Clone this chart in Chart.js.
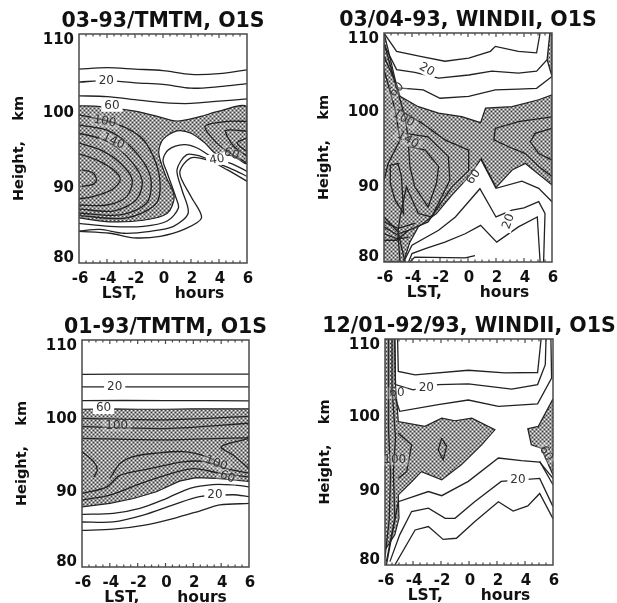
<!DOCTYPE html>
<html>
<head>
<meta charset="utf-8">
<title>O1S height / local time contours</title>
<script src="https://cdn.jsdelivr.net/npm/chart.js@4"></script>
<style>
  html, body { margin: 0; padding: 0; background: #fff; overflow: hidden; }
  #page { position: relative; width: 617px; height: 603px; overflow: hidden; }
  #page canvas { position: absolute; filter: blur(0.4px); }
</style>
</head>
<body>
<div id="page"></div>
<script>
// --- Axis values ---
const xTickValues = [-6, -4, -2, 0, 2, 4, 6];
const xMinorTicks = [-5.5, -5, -4.5, -4, -3.5, -3, -2.5, -2, -1.5, -1, -0.5, 0, 0.5, 1, 1.5, 2, 2.5, 3, 3.5, 4, 4.5, 5, 5.5];
const yTickValues = [80, 90, 100, 110];

// --- Panel 1: 03-93/TMTM ---
const p1Shade = [[-6,100.6],[-4.5,100.5],[-2,99.9],[-0.4,99.2],[1,98.6],[2.7,99.2],[4,99.9],[6,100.4],[6,93.1],[5,94],[3.8,94.3],[3,95.7],[2,97],[1,97.3],[0,96.2],[-0.3,94.4],[0.2,91.4],[0.8,88.7],[0.3,86.5],[-1.4,85.6],[-3.8,85.4],[-6,85.9]];
const p1Upper1 = [[-6,105.4],[-4,105.6],[-2,105.4],[0,105.2],[2,104.7],[4,104.8],[6,105.3]];
const p1Upper2 = [[-6,103.7],[-4,103.9],[-2,103.6],[0,103.4],[2,102.9],[4,103.1],[6,103.5]];
const p1Upper3 = [[-6,101.9],[-4,101.8],[-2,101.4],[0,101],[1,100.9],[2,100.9],[4,101.2],[6,101.5]];
const p1Lower1 = [[-6,85.2],[-3.8,84.8],[-1.4,84.8],[0.3,85.5],[1.1,87.2],[0.9,88.7],[0.3,91.8],[0,93.5],[0.4,94.85],[1.5,95.5],[2.4,95.1],[3.6,93.8],[5.05,92.9],[6,92]];
const p1Lower2 = [[-6,84.2],[-4.5,84.4],[-2.8,83.9],[-0.9,84.15],[0.75,84.8],[1.8,86.55],[1.35,89.6],[1,92.2],[1.7,94.2],[2.65,94],[3.85,93.1],[5.05,92.2],[6,91.35]];
const p1Lower3 = [[-6,84.15],[-3.8,83.9],[-2.1,83.3],[-0.2,83.5],[1.5,84.4],[2.75,85.9],[2,88.7],[1.2,91.8],[1.95,93.75],[3.15,93.5],[4.6,92.2],[6,90.7]];
const p1Core1 = [[-5.8,92.2],[-5,91.8],[-4.75,90.9],[-5,90.3],[-5.8,90.05]];
const p1Core2 = [[-6,94.3],[-4.75,93.5],[-3.55,92.2],[-3.05,90.9],[-3.65,89.6],[-5,88.7],[-6,88.4]];
const p1Core3 = [[-6,95.7],[-4.5,94.85],[-3.05,93.1],[-2.2,90.9],[-2.6,88.7],[-4,87.6],[-6,87.6]];
const p1Core4 = [[-6,97],[-4.25,96.15],[-2.6,94],[-1.5,90.9],[-1.9,88.3],[-3.55,86.8],[-6,87.1]];
const p1Core5 = [[-6,98.1],[-3.8,97.25],[-2.1,94.85],[-0.9,91.35],[-1.15,87.9],[-3.05,86.3],[-6,86.55]];
const p1Core6 = [[-6,99.4],[-3.4,98.3],[-1.4,96.15],[-0.3,91.8],[-0.45,87.9],[-2.6,85.9],[-6,86.2]];
const p1Right1 = [[6,98.55],[4.6,98.55],[3,97.9],[3.85,95.7],[4.8,94.4],[6,93.1]];
const p1Right2 = [[6,97.25],[4.8,97.45],[4.45,97.25],[5.05,95.3],[6,94]];
const p1Right3 = [[6,96.4],[5.3,95.7],[6,94.6]];
const p1Labels = [[-4.05,103.8,'20'],[-3.65,100.6,'60'],[-4.15,98.55,'100'],[-3.55,95.95,'140'],[3.85,93.55,'40'],[4.9,94.3,'60']];

// --- Panel 2: 03/04-93 WINDII ---
const p2Shade = [[-6,110],[-5.7,107.8],[-5.2,103.9],[-4.85,101.7],[-3.55,100.35],[-2.1,99.5],[-0.45,99.05],[0.9,98.25],[1.25,100.15],[3.15,100.35],[5.05,101.25],[6,101.9],[6,90.1],[4.1,92.9],[3.15,92.05],[2,89.75],[0.95,93.55],[0.05,91.15],[-1.15,88.75],[-2.25,86.35],[-3.55,84.6],[-4.15,82.6],[-4.6,80],[-6,80]];
const p2ShadeEdge = [[5.85,110],[6,110],[6,104.3],[5.65,106.5]];
const p2Top1 = [[-6,110],[-5.1,107.6],[-3.4,106.95],[-1.65,106.3],[0.05,106.7],[1.6,107.6],[1.95,108.25],[3.6,107.6],[4.9,107.4],[5.15,110]];
const p2Top2 = [[-6,108.5],[-5.1,105.2],[-3.8,104.85],[-2.1,104.1],[0.05,104.5],[1.7,105],[3.6,104.75],[4.9,105],[5.65,106.5],[5.85,110]];
const p2Top3 = [[-6,106.95],[-5,102.8],[-3.2,102.55],[-2,101.45],[0.05,101.7],[1.95,102.55],[3.6,102.65],[4.9,102.75],[6,104.3]];
const p2Low1 = [[0.95,93.35],[2,89.65],[3.85,90.6],[5.05,89.65],[6,87.9]];
const p2Low2 = [[-4.6,80],[-4,82.2],[-2.1,84.15],[-0.9,85.9],[0.85,89.6],[2,85.9],[3.15,86.8],[4,87.1],[5.05,87.9],[5.5,86.35],[5.4,80]];
const p2Low3 = [[-4.25,80],[-4,81.1],[-3.05,81.75],[-1.65,82.6],[-0.2,83.7],[0.9,84.8],[2.05,82.6],[3.6,84.6],[4.95,85.9],[5.15,80]];
const p2Low4 = [[-4.15,80],[-3.8,80.65],[-0.2,80.55],[0.5,80.85]];
const p2Right1 = [[6,99],[3.6,98.4],[1.95,97.5],[1.85,96],[2.9,95.1],[4.1,94.2],[5.05,92.5],[6,91.2]];
const p2Right2 = [[6,97.5],[4.8,96.85],[4.45,95.75],[5.05,94.2],[6,93.35]];
const p2Loop = [[-5.55,92.7],[-5,92.9],[-4.75,91.15],[-4.6,86.35],[-5.2,88.1],[-5.55,90.3],[-5.55,92.7]];
const p2Nest1 = [[-4.25,95.1],[-3.05,94.65],[-2.1,92.5],[-2.25,90.3],[-2.85,87.2],[-3.8,89.85],[-4.15,92.5],[-4.25,95.1]];
const p2Nest2 = [[-4.5,96.85],[-2.85,96.4],[-1.4,93.8],[-1.3,90.7],[-2.6,85.9],[-3.55,86.35],[-4.4,89.85],[-4.85,85.9],[-5,83.95]];
const p2Nest3 = [[-4.85,99.9],[-3.3,98.2],[-1.65,96],[0.05,94.65],[0.05,92],[-1.15,89.85],[-2.85,85.25],[-4.25,84.15],[-5,83.7]];
const p2Diag1 = [[-6,108.7],[-5.2,103.45],[-4.5,99],[-4.25,96]];
const p2Diag2 = [[-6,105.2],[-5.2,99.9],[-4.85,96],[-5.7,92.9],[-6,90.7]];
const p2Star1 = [[-6,85.9],[-5,83.95],[-4.5,80]];
const p2Star2 = [[-6,84.6],[-5,83.5],[-4.85,80]];
const p2Star3 = [[-6,82.85],[-5.1,82.85],[-4.25,84.15]];
const p2Star4 = [[-6,85.25],[-5,84.4],[-3.8,85.05]];
const p2Star5 = [[-6,83.7],[-5,83],[-4.25,83.25]];
const p2Labels = [[-2.95,105.2,'20'],[2.9,85.3,'20'],[-5.1,102.55,'60'],[-4.6,98.8,'100'],[-4.3,96,'140'],[0.4,91.15,'60']];

// --- Panel 3: 01-93/TMTM ---
const p3Shade = [[-6,100.85],[-4,100.9],[-2,100.85],[0,100.85],[2,100.9],[4,100.9],[6,100.9],[6,91.3],[3.65,91.7],[2.2,91.8],[1,91.35],[-0.65,89.95],[-2.3,89.05],[-4,88.4],[-6,87.95]];
const p3Top1 = [[-6,105.46],[0,105.5],[6,105.5]];
const p3Top2 = [[-6,103.8],[0,103.8],[6,103.8]];
const p3Top3 = [[-6,102],[0,102],[6,101.95]];
const p3Band1 = [[-6,99.65],[0,99.45],[6,99.9]];
const p3Band2 = [[-6,98.55],[0,98.3],[6,99]];
const p3Band3 = [[-6,97],[0,96.8],[6,97.1]];
const p3Low1 = [[-6,86.95],[-3.75,87.1],[-1.85,87.75],[0.05,89.05],[1.75,90.4],[3.4,90.9],[4.85,90.85],[6,90.6]];
const p3Low2 = [[-6,85.95],[-3.75,85.95],[-1.6,86.85],[0.55,88.2],[2.45,89.3],[4.85,89.55],[6,89.3]];
const p3Low3 = [[-6,84.85],[-3.75,85],[-1.6,85.5],[0.55,86.4],[2.45,87.4],[3.9,88.2],[6,88.4]];
const p3Mid1 = [[-6,95.25],[-5.15,93.9],[-4.9,92.8],[-5.15,91.9]];
const p3Mid2 = [[-4,91.7],[-3.25,93.7],[-2.3,94.6],[-0.65,95.05],[1.25,95.25],[2.95,94.6],[3.9,93.7]];
const p3Mid3 = [[-6,89.7],[-4.2,90.6],[-3.25,92.15],[-1.1,93],[1.25,93.9],[2.95,93.9],[4.4,93],[6,92.4]];
const p3Mid4 = [[-6,88.85],[-4,89.5],[-1.85,91],[0.05,92.15],[2,93],[3.9,92.4],[6,91.9]];
const p3Wedge = [[6,97],[4,95.9],[4.85,94.8],[6,93]];
const p3Labels = [[-3.65,103.75,'20'],[-4.45,101,'60'],[-3.5,98.7,'100'],[3.65,93.7,'100'],[4.45,91.9,'60'],[3.55,89.55,'20']];

// --- Panel 4: 12/01-92/93 WINDII ---
const p4Shade = [[-6,110],[-5.3,110],[-5.25,103.95],[-5.05,99.05],[-3.15,98.4],[-1.95,99.5],[-1,99.15],[0.2,99.5],[1.85,97.95],[0.9,95.95],[-0.55,93.3],[-1.95,91.3],[-3.4,92.4],[-4.1,91.05],[-5.05,89.3],[-5,86.2],[-5.3,84],[-6,82]];
const p4ShadeRight = [[6,102.05],[4.95,98.4],[4.2,98.1],[4.45,95.95],[5.15,95.5],[6,91.95]];
const p4Top1 = [[-5.1,110],[-5.05,105.7],[-3.85,105.25],[-0.05,105.85],[2.55,105.5],[4.9,105.55],[5.15,110]];
const p4Top2 = [[-5.3,110],[-5.25,103.95],[-4,103.25],[-2.2,103.95],[-0.05,104.05],[3.05,103.35],[4.9,103.95],[5.45,106.6],[5.5,110]];
const p4Top3 = [[-5.5,110],[-5.5,103.5],[-4.95,100.4],[-2.2,101.3],[-0.05,101.9],[2.1,101.05],[4.9,101.4],[5.9,104.8],[5.85,110]];
const p4Side1 = [[-5.75,110],[-5.75,98],[-5.6,92],[-5.7,86],[-6,81]];
const p4Side2 = [[-5.5,103.5],[-5.25,96.85],[-5.4,92.4],[-5.3,86.2],[-5.9,80.45]];
const p4Oval = [[-1.95,96.85],[-1.6,95.75],[-1.85,93.95],[-2.2,95.3],[-1.95,96.85]];
const p4Inner = [[-5.05,97.5],[-4.1,95.95],[-4.45,92.4],[-5.05,91.5]];
const p4Low1 = [[-5.9,80],[-5.05,88.4],[-2.9,89.75],[-1.95,89.2],[-0.05,91.1],[2.1,94.2],[3.75,93.85],[5.05,93.65],[6,91.5]];
const p4Low2 = [[-5.65,80.45],[-4.95,84],[-4.1,87.1],[-2.9,87.55],[-1.7,86.2],[-1,86.2],[0.4,88.4],[2.3,91.1],[5.05,91.5],[6,87.75]];
const p4Low3 = [[-5.3,80],[-3.85,84.65],[-2.9,85.1],[-1.85,83.4],[-0.9,83.55],[0.4,85.75],[2.1,88.4],[3.15,87.15],[4.2,87.85],[5.05,89.5],[6,86.15]];
const p4Low4 = [[5.05,93.75],[6,90.65]];
const p4Labels = [[-3.05,103.5,'20'],[3.5,91.3,'20'],[-5.15,102.8,'60'],[-5.3,94,'100'],[5.5,94.8,'60']];

// --- Panels ---
const panels = [
    { title: '03-93/TMTM, O1S', box: [79, 34, 168, 229], tension: 0.3, shadeTension: 0.3,
      shades: [p1Shade],
      lines: [p1Upper1, p1Upper2, p1Upper3, p1Lower1, p1Lower2, p1Lower3, p1Core1, p1Core2, p1Core3, p1Core4, p1Core5, p1Core6, p1Right1, p1Right2, p1Right3],
      labels: p1Labels, angles: [0, 0, 10, 25, -10, 20], clear: [1, 1, 0, 0, 1, 0] },
    { title: '03/04-93, WINDII, O1S', box: [384, 33, 168, 229], tension: 0, shadeTension: 0,
      shades: [p2Shade, p2ShadeEdge],
      lines: [p2Top1, p2Top2, p2Top3, p2Low1, p2Low2, p2Low3, p2Low4, p2Right1, p2Right2, p2Loop, p2Nest1, p2Nest2, p2Nest3, p2Diag1, p2Diag2, p2Star1, p2Star2, p2Star3, p2Star4, p2Star5],
      labels: p2Labels, angles: [30, -70, -40, 30, 30, -55], clear: [1, 1, 0, 0, 0, 0] },
    { title: '01-93/TMTM, O1S', box: [82, 340, 167, 227], tension: 0.3, shadeTension: 0,
      shades: [p3Shade],
      lines: [p3Top1, p3Top2, p3Top3, p3Band1, p3Band2, p3Band3, p3Low1, p3Low2, p3Low3, p3Mid1, p3Mid2, p3Mid3, p3Mid4, p3Wedge],
      labels: p3Labels, angles: [0, 0, 0, 20, 20, 0], clear: [1, 1, 0, 0, 0, 1] },
    { title: '12/01-92/93, WINDII, O1S', box: [385, 339, 168, 226], tension: 0, shadeTension: 0,
      shades: [p4Shade, p4ShadeRight],
      lines: [p4Top1, p4Top2, p4Top3, p4Side1, p4Side2, p4Oval, p4Inner, p4Low1, p4Low2, p4Low3, p4Low4],
      labels: p4Labels, angles: [0, 0, 0, 0, 60], clear: [1, 1, 0, 0, 0] }
];

const LINE_COLOR = '#222';
const SIDE = 79;       // space reserved left and right of each plot, keeps the title centred
const TITLE_H = 34;
const FOOT_H = 42;

// diagonal dot screen of the shaded regions
function stipple() {
    const c = document.createElement('canvas');
    c.width = 4;
    c.height = 4;
    const g = c.getContext('2d');
    g.fillStyle = '#9a9a9a';
    g.fillRect(0, 0, 4, 4);
    g.fillStyle = '#f0f0f0';
    g.fillRect(0, 0, 1, 1);
    g.fillRect(2, 2, 1, 1);
    g.fillStyle = '#3c3c3c';
    g.fillRect(2, 0, 1, 1);
    g.fillRect(0, 2, 1, 1);
    return g.createPattern(c, 'repeat');
}

const toPoints = pairs => pairs.map(p => ({ x: p[0], y: p[1] }));

// frame, inward ticks, y tick labels and contour labels
const panelDecor = {
    id: 'panelDecor',
    afterDatasetsDraw(chart, args, opts) {
        const { ctx, chartArea: a, scales } = chart;
        const xs = scales.x;
        const ys = scales.y;
        ctx.save();

        ctx.strokeStyle = '#4a4a4a';
        ctx.lineWidth = 1.5;
        ctx.strokeRect(a.left, a.top, a.right - a.left, a.bottom - a.top);
        ctx.lineWidth = 1.2;
        xMinorTicks.forEach(v => {
            const px = xs.getPixelForValue(v);
            const len = Number.isInteger(v / 2) ? 4 : 2.5;
            ctx.beginPath();
            ctx.moveTo(px, a.top);
            ctx.lineTo(px, a.top + len);
            ctx.moveTo(px, a.bottom);
            ctx.lineTo(px, a.bottom - len);
            ctx.stroke();
        });

        ctx.fillStyle = '#111';
        ctx.font = 'bold 15px "DejaVu Sans"';
        ctx.textAlign = 'right';
        ctx.textBaseline = 'middle';
        const nudge = [-5, 1, 3, 6];
        yTickValues.forEach((v, i) => {
            ctx.fillText(String(v), a.left - 5, ys.getPixelForValue(v) + nudge[i]);
        });

        ctx.font = '12px "DejaVu Sans"';
        ctx.textAlign = 'center';
        opts.labels.forEach((l, i) => {
            ctx.save();
            ctx.translate(xs.getPixelForValue(l[0]), ys.getPixelForValue(l[1]));
            ctx.rotate(opts.angles[i] * Math.PI / 180);
            const w = ctx.measureText(l[2]).width + 6;
            ctx.fillStyle = opts.clear[i] ? '#fff' : 'rgba(255,255,255,0.25)';
            ctx.fillRect(-w / 2, -6, w, 12);
            ctx.fillStyle = '#333';
            ctx.fillText(l[2], 0, 0);
            ctx.restore();
        });
        ctx.restore();
    }
};

const page = document.getElementById('page');
const pattern = stipple();

panels.forEach(panel => {
    const [left, top, w, h] = panel.box;
    const canvas = document.createElement('canvas');
    canvas.width = SIDE * 2 + w;
    canvas.height = TITLE_H + h + FOOT_H;
    canvas.style.left = (left - SIDE) + 'px';
    canvas.style.top = (top - TITLE_H) + 'px';
    page.appendChild(canvas);

    const datasets = [];
    panel.lines.forEach(line => {
        datasets.push({ data: toPoints(line), showLine: true, pointRadius: 0, borderColor: LINE_COLOR, borderWidth: 1.3, tension: panel.tension, fill: false, order: 1 });
    });
    panel.shades.forEach(shade => {
        datasets.push({ data: toPoints(shade), showLine: true, pointRadius: 0, borderColor: LINE_COLOR, borderWidth: 1.2, backgroundColor: pattern, tension: panel.shadeTension, fill: 'shape', order: 2 });
    });

    new Chart(canvas, {
        type: 'scatter',
        data: { datasets },
        plugins: [panelDecor],
        options: {
            responsive: false,
            animation: false,
            events: [],
            layout: { padding: 0 },
            plugins: {
                legend: { display: false },
                tooltip: { enabled: false },
                title: {
                    display: true,
                    text: panel.title,
                    color: '#111',
                    font: { family: '"DejaVu Sans"', size: 20.5, weight: 'bold', lineHeight: 1 },
                    padding: { top: 11, bottom: 2.5 }
                },
                panelDecor: { labels: panel.labels, angles: panel.angles, clear: panel.clear }
            },
            scales: {
                x: {
                    type: 'linear',
                    min: -6,
                    max: 6,
                    afterFit(s) { s.height = FOOT_H; },
                    afterBuildTicks(s) { s.ticks = xTickValues.map(v => ({ value: v })); },
                    grid: { display: false, drawTicks: false },
                    border: { display: false },
                    ticks: { color: '#111', padding: 7, autoSkip: false, maxRotation: 0, labelOffset: 1, font: { family: '"DejaVu Sans"', size: 15, weight: 'bold' } },
                    title: { display: true, text: 'LST,       hours', color: '#111', padding: { top: 0, bottom: 3 }, font: { family: '"DejaVu Sans"', size: 15.5, weight: 'bold', lineHeight: 1 } }
                },
                y: {
                    type: 'linear',
                    min: 80,
                    max: 110,
                    afterFit(s) { s.width = SIDE; },
                    grid: { display: false },
                    border: { display: false },
                    ticks: { display: false, stepSize: 10 },
                    title: { display: true, text: 'Height,    km', color: '#111', padding: { top: 12, bottom: 0 }, font: { family: '"DejaVu Sans"', size: 14.5, weight: 'bold', lineHeight: 1 } }
                },
                rightPad: {
                    type: 'linear',
                    position: 'right',
                    afterFit(s) { s.width = SIDE; },
                    grid: { display: false },
                    border: { display: false },
                    ticks: { display: false }
                }
            }
        }
    });
});
</script>
</body>
</html>
